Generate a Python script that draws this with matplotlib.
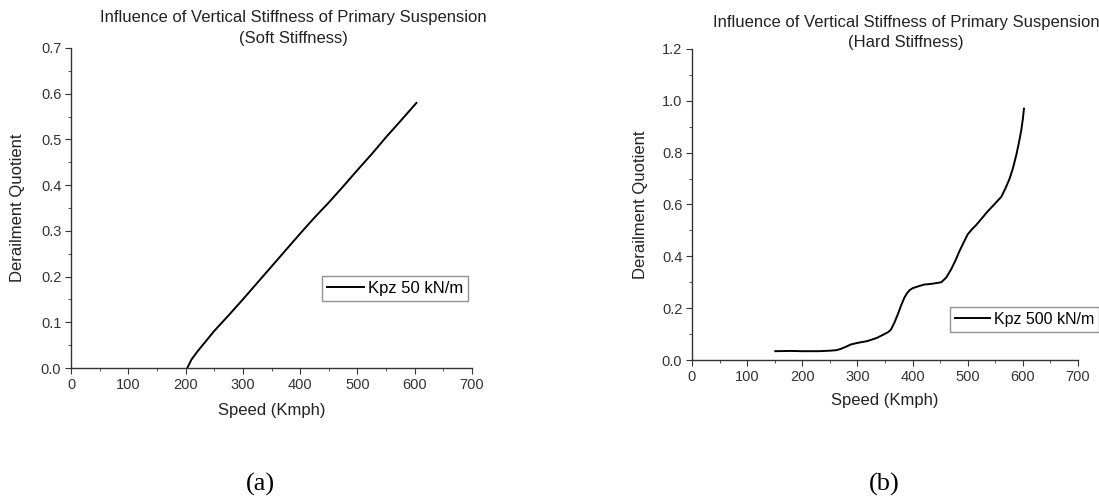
import numpy as np
import matplotlib.pyplot as plt
from matplotlib.ticker import MultipleLocator

plt.rcParams['font.family'] = ['Liberation Sans', 'DejaVu Sans']

# (a) soft stiffness
speed_soft = [203, 210, 220, 235, 250, 275, 300, 325, 350, 375, 400, 425, 450, 475, 500, 525, 550, 575, 603]
dq_soft = [0.0, 0.018, 0.035, 0.058, 0.081, 0.115, 0.150, 0.186, 0.222, 0.258, 0.294, 0.329, 0.362, 0.397, 0.433, 0.468, 0.505, 0.540, 0.580]

# (b) hard stiffness
speed_hard = [151, 180, 200, 230, 251, 262, 270, 280, 288, 300, 318, 335, 348, 356, 361, 367, 373, 379, 385,
              390, 395, 400, 410, 421, 435, 452, 461, 470, 478, 485, 493, 500, 508, 515, 525, 536, 548,
              561, 569, 576, 582, 588, 593, 597, 600, 602]
dq_hard = [0.034, 0.035, 0.034, 0.034, 0.036, 0.038, 0.043, 0.052, 0.060, 0.066, 0.073, 0.085, 0.099, 0.108, 0.118, 0.144,
           0.175, 0.209, 0.240, 0.258, 0.270, 0.277, 0.284, 0.291, 0.294, 0.300, 0.318, 0.350, 0.385, 0.420, 0.455,
           0.485, 0.505, 0.520, 0.545, 0.573, 0.600, 0.630, 0.665, 0.700, 0.740, 0.790, 0.840, 0.885, 0.930, 0.970]

fig = plt.figure(figsize=(10.99, 4.96), dpi=100)
W, H = 1099, 496


def setup(ax, ymax, ystep, xlab_y, ylab_x):
    ax.spines['top'].set_visible(False)
    ax.spines['right'].set_visible(False)
    for s in ['left', 'bottom']:
        ax.spines[s].set_color('#333333')
        ax.spines[s].set_linewidth(1.0)
    ax.set_xlim(0, 700)
    ax.set_ylim(0, ymax)
    ax.xaxis.set_major_locator(MultipleLocator(100))
    ax.xaxis.set_minor_locator(MultipleLocator(50))
    ax.yaxis.set_major_locator(MultipleLocator(ystep))
    ax.yaxis.set_minor_locator(MultipleLocator(ystep / 2))
    ax.yaxis.set_major_formatter(plt.FormatStrFormatter('%.1f'))
    ax.tick_params(which='both', direction='out', colors='#333333', labelcolor='#333333', labelsize=10.5)
    ax.tick_params(which='major', length=4, pad=3)
    ax.tick_params(which='minor', length=2.5)
    ax.set_xlabel('Speed (Kmph)', fontsize=12, color='#222222', va='center')
    ax.set_ylabel('Derailment Quotient', fontsize=12, color='#222222', va='center')
    ax.xaxis.set_label_coords(0.5, xlab_y)
    ax.yaxis.set_label_coords(ylab_x, 0.5)


def add_legend(ax, x0, y0, fs):
    ax.legend(loc='upper left', bbox_to_anchor=(x0, y0),
              fontsize=fs, frameon=True, fancybox=False, edgecolor='#777777',
              handlelength=2.2, borderpad=0.3, handletextpad=0.25, borderaxespad=0)


# left panel: x 71..472, y 48..368
ax1 = fig.add_axes([71 / W, 1 - 368 / H, (472 - 71) / W, (368 - 48) / H])
setup(ax1, 0.7, 0.1, (368 - 410) / 320, (18 - 71) / 401)
ax1.plot(speed_soft, dq_soft, color='black', lw=1.4, label='Kpz 50 kN/m')
add_legend(ax1, (322 - 71) / 401, 1 - (276 - 48) / 320, 12)
fig.text(293 / W, 1 - 17.5 / H, 'Influence of Vertical Stiffness of Primary Suspension',
         ha='center', va='center', fontsize=12, color='#222222')
fig.text(293 / W, 1 - 38 / H, '(Soft Stiffness)',
         ha='center', va='center', fontsize=12, color='#222222')

# right panel: x 692..1078, y 49..360
ax2 = fig.add_axes([692 / W, 1 - 360 / H, (1078 - 692) / W, (360 - 49) / H])
setup(ax2, 1.2, 0.2, (360 - 401) / 311, (640 - 692) / 386)
ax2.plot(speed_hard, dq_hard, color='black', lw=1.4, label='Kpz 500 kN/m')
add_legend(ax2, (950 - 692) / 386, 1 - (307 - 49) / 311, 11.5)
fig.text(906 / W, 1 - 22.5 / H, 'Influence of Vertical Stiffness of Primary Suspension',
         ha='center', va='center', fontsize=12, color='#222222')
fig.text(906 / W, 1 - 43 / H, '(Hard Stiffness)',
         ha='center', va='center', fontsize=12, color='#222222')

fig.text(260 / W, 1 - 484 / H, '(a)', ha='center', va='center', fontsize=19, family='Liberation Serif')
fig.text(884 / W, 1 - 484 / H, '(b)', ha='center', va='center', fontsize=19, family='Liberation Serif')

fig.savefig('out.png', dpi=100)
